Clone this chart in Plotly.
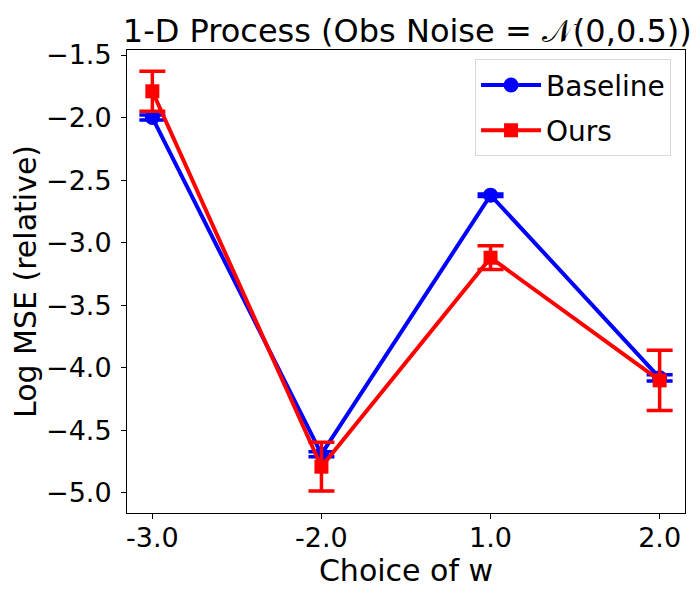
import plotly.graph_objects as go

# Values
w_choices = ['-3.0', '-2.0', '1.0', '2.0']
baseline_mse = [-2.00, -4.69, -2.62, -4.08]
baseline_err = [0.02, 0.02, 0.01, 0.025]
ours_mse = [-1.79, -4.79, -3.12, -4.10]
ours_err = [0.16, 0.195, 0.095, 0.24]

font_family = 'DejaVu Sans'

fig = go.Figure()

fig.add_trace(go.Scatter(
    x=w_choices, y=baseline_mse, name='Baseline', mode='lines+markers',
    legendgroup='a',
    line=dict(color='blue', width=4),
    marker=dict(symbol='circle', size=15, color='blue'),
    error_y=dict(type='data', array=baseline_err, color='blue', thickness=3.5, width=13),
))
fig.add_trace(go.Scatter(
    x=w_choices, y=ours_mse, name='Ours', mode='lines+markers',
    legendgroup='b',
    line=dict(color='red', width=4),
    marker=dict(symbol='square', size=14, color='red'),
    error_y=dict(type='data', array=ours_err, color='red', thickness=3.5, width=13),
))

axis_style = dict(
    showline=True, linecolor='black', linewidth=1, mirror=True,
    ticks='outside', ticklen=5, tickcolor='black', showgrid=False, zeroline=False,
    automargin=False,
    tickfont=dict(family=font_family, size=27, color='black'),
)

# page body adds about 8px, so the figure is a bit smaller than the window
fig.update_layout(
    width=692, height=592,
    plot_bgcolor='white', paper_bgcolor='white',
    margin=dict(l=119, r=15, t=42, b=87),
    title=dict(text='1-D Process (Obs Noise = 𝒩(0,0.5))', x=0.577, xanchor='center',
               y=0.962, yanchor='middle',
               font=dict(family=font_family, size=32, color='black')),
    xaxis=dict(type='category', range=[-0.15, 3.15],
               ticklabelstandoff=-4,
               title=dict(text='Choice of w', standoff=0,
                          font=dict(family=font_family, size=30, color='black')),
               **axis_style),
    yaxis=dict(range=[-5.16, -1.46], dtick=0.5, tickformat='.1f',
               ticklabelstandoff=4,
               title=dict(text='Log MSE (relative)', standoff=2,
                          font=dict(family=font_family, size=30, color='black')),
               **axis_style),
    legend=dict(x=0.975, y=0.98, xanchor='right', yanchor='top',
                bgcolor='white', bordercolor='#d9d9d9', borderwidth=1,
                tracegroupgap=6, itemwidth=60,
                font=dict(family=font_family, size=28, color='black')),
    showlegend=True,
)

fig.write_html('out.html')
